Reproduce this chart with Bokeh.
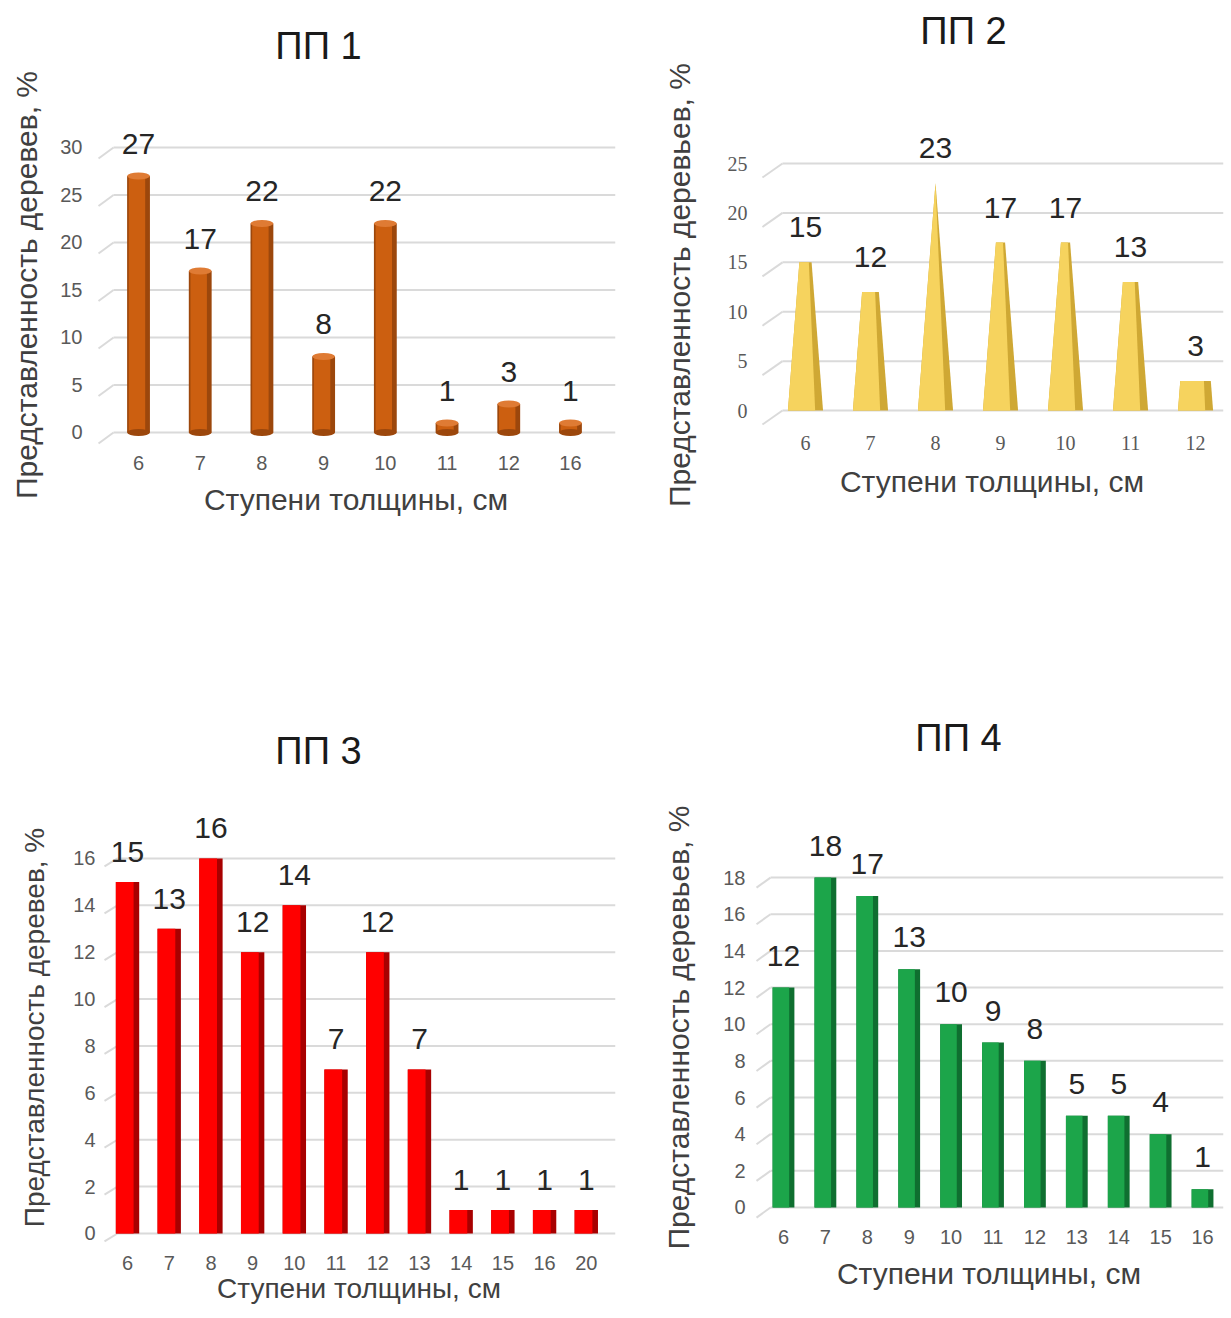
from bokeh.plotting import figure
from bokeh.layouts import column, row
from bokeh.models import ColumnDataSource, FixedTicker, Range1d, Label
from bokeh.transform import dodge
from bokeh.embed import file_html
from bokeh.resources import INLINE
from bokeh.core.properties import value

# ---------------- data ----------------
pp1_title = "ПП 1"
pp1_steps = ["6", "7", "8", "9", "10", "11", "12", "16"]
pp1_values = [27, 17, 22, 8, 22, 1, 3, 1]
pp1_yticks = [0, 5, 10, 15, 20, 25, 30]

pp2_title = "ПП 2"
pp2_steps = ["6", "7", "8", "9", "10", "11", "12"]
pp2_values = [15, 12, 23, 17, 17, 13, 3]
pp2_yticks = [0, 5, 10, 15, 20, 25]

pp3_title = "ПП 3"
pp3_steps = ["6", "7", "8", "9", "10", "11", "12", "13", "14", "15", "16", "20"]
pp3_values = [15, 13, 16, 12, 14, 7, 12, 7, 1, 1, 1, 1]
pp3_yticks = [0, 2, 4, 6, 8, 10, 12, 14, 16]

pp4_title = "ПП 4"
pp4_steps = ["6", "7", "8", "9", "10", "11", "12", "13", "14", "15", "16"]
pp4_values = [12, 18, 17, 13, 10, 9, 8, 5, 5, 4, 1]
pp4_yticks = [0, 2, 4, 6, 8, 10, 12, 14, 16, 18]

x_title = "Ступени толщины, см"
y_title_a = "Представленность деревев, %"
y_title_b = "Представленность деревьев, %"

FONT = "Liberation Sans"
SERIF = "Liberation Serif"
GRID = "#DADADA"


def make_fig(title, title_pos, steps, vals, yticks, ytitle, W, H, L, T, R, B, xr, yr,
             grid3d, xl_standoff, xt_standoff, yl_standoff, yt_standoff,
             tick_font=FONT, axis_title_size="30px"):
    p = figure(width=W, height=H, min_border_left=L, min_border_top=T,
               min_border_right=R, min_border_bottom=B,
               x_range=Range1d(*xr), y_range=Range1d(*yr),
               output_backend="svg", toolbar_location=None, tools="")
    p.outline_line_color = None
    p.background_fill_color = "white"
    p.border_fill_color = "white"
    p.xgrid.visible = False
    p.ygrid.visible = False

    # 3D-style gridlines: back-wall line plus a short slanted floor edge at its left end
    x0, dx, dy = grid3d
    n = len(yticks)
    p.segment(x0=[x0] * n, y0=yticks, x1=[xr[1]] * n, y1=yticks,
              line_color=GRID, line_width=2)
    p.segment(x0=[x0] * n, y0=yticks, x1=[x0 - dx] * n, y1=[t - dy for t in yticks],
              line_color=GRID, line_width=2)

    p.add_layout(Label(x=title_pos[0], y=title_pos[1], x_units="canvas", y_units="canvas",
                       text=title, text_align="center", text_baseline="middle",
                       text_font=FONT, text_font_size="38px", text_color="#1a1a1a"),
                 "above")

    for ax in (p.xaxis[0], p.yaxis[0]):
        ax.axis_line_color = None
        ax.major_tick_line_color = None
        ax.minor_tick_line_color = None
        ax.major_tick_out = 0
        ax.major_tick_in = 0
        ax.major_label_text_font = tick_font
        ax.major_label_text_font_size = "20px"
        ax.major_label_text_color = "#595959"
        ax.axis_label_text_font = FONT
        ax.axis_label_text_font_size = axis_title_size
        ax.axis_label_text_font_style = "normal"
        ax.axis_label_text_color = "#404040"

    p.xaxis.ticker = FixedTicker(ticks=list(range(len(steps))))
    p.xaxis.major_label_overrides = {i: s for i, s in enumerate(steps)}
    p.xaxis.major_label_standoff = xl_standoff
    p.xaxis.axis_label = x_title
    p.xaxis.axis_label_standoff = xt_standoff

    p.yaxis.ticker = FixedTicker(ticks=yticks)
    p.yaxis.major_label_standoff = yl_standoff
    p.yaxis.axis_label = ytitle
    p.yaxis.axis_label_standoff = yt_standoff
    return p


def add_labels(p, vals, off):
    src = ColumnDataSource(dict(x=list(range(len(vals))), y=vals,
                                t=[str(v) for v in vals]))
    p.text(x="x", y="y", text="t", source=src, text_align="center",
           text_baseline="middle", y_offset=off,
           text_font=value(FONT), text_font_size="30px", text_color="#262626")


def add_cylinders(p, vals, w, dark, mid, light):
    n = len(vals)
    src = ColumnDataSource(dict(x=list(range(n)), top=vals, zero=[0] * n))
    p.vbar(x="x", top="top", bottom="zero", width=w, source=src,
           fill_color=dark, line_color=None)
    p.vbar(x=dodge("x", -0.025, range=p.x_range), top="top", bottom="zero",
           width=w * 0.72, source=src, fill_color=mid, line_color=None)
    p.ellipse(x="x", y="zero", width=w, height=7, height_units="screen",
              source=src, fill_color=dark, line_color=None)
    p.ellipse(x="x", y="top", width=w, height=7, height_units="screen",
              source=src, fill_color=light, line_color=None)


def add_boxes(p, vals, w, side, front):
    n = len(vals)
    src = ColumnDataSource(dict(x=list(range(n)), top=vals, zero=[0] * n))
    p.vbar(x="x", top="top", bottom="zero", width=w, source=src,
           fill_color=side, line_color=None)
    p.vbar(x=dodge("x", -w * 0.12, range=p.x_range), top="top", bottom="zero",
           width=w * 0.76, source=src, fill_color=front, line_color=None)


def add_pyramids(p, vals, w, side, front):
    vmax = max(vals)
    hb = w / 2.0
    xs_back, ys_back, xs_front, ys_front = [], [], [], []
    for i, v in enumerate(vals):
        ht = hb * (1.0 - v / vmax)
        xs_back.append([i - hb, i + hb, i + ht, i - ht])
        ys_back.append([0, 0, v, v])
        xs_front.append([i - hb, i + hb * 0.55, i + ht * 0.55, i - ht])
        ys_front.append([0, 0, v, v])
    p.patches(xs=xs_back, ys=ys_back, fill_color=side, line_color=None)
    p.patches(xs=xs_front, ys=ys_front, fill_color=front, line_color=None)


# Row 1: frames share top (124) and bottom (445); Row 2: top 812, bottom 1242
# ---------------- ПП 1 ----------------
p1 = make_fig(pp1_title, (318, 45), pp1_steps, pp1_values, pp1_yticks, y_title_a,
              W=636, H=680, L=96, T=124, R=21, B=235,
              xr=(-0.681, 7.73), yr=(-1.37, 32.42), grid3d=(-0.405, 0.243, 1.16),
              xl_standoff=10, xt_standoff=10, yl_standoff=14, yt_standoff=14)
add_cylinders(p1, pp1_values, 0.37, "#9C470C", "#CC5F10", "#DF7B34")
add_labels(p1, pp1_values, -32)

# ---------------- ПП 2 ----------------
p2 = make_fig(pp2_title, (327, 30), pp2_steps, pp2_values, pp2_yticks, y_title_b,
              W=589, H=680, L=124, T=124, R=2, B=235,
              xr=(-0.692, 6.43), yr=(-3.54, 28.95), grid3d=(-0.354, 0.308, 1.42),
              xl_standoff=-10, xt_standoff=12, yl_standoff=13, yt_standoff=29,
              tick_font=SERIF)
add_pyramids(p2, pp2_values, 0.54, "#CFA834", "#F6D35E")
add_labels(p2, pp2_values, -35)

# ---------------- ПП 3 ----------------
p3 = make_fig(pp3_title, (318, 70), pp3_steps, pp3_values, pp3_yticks, y_title_a,
              W=636, H=630, L=102, T=132, R=21, B=68,
              xr=(-0.600, 11.70), yr=(-0.384, 17.96), grid3d=(-0.24, 0.312, 0.34),
              xl_standoff=13, xt_standoff=0, yl_standoff=7, yt_standoff=20,
              axis_title_size="28px")
add_boxes(p3, pp3_values, 0.56, "#A80000", "#FF0000")
add_labels(p3, pp3_values, -30)

# ---------------- ПП 4 ----------------
p4 = make_fig(pp4_title, (322, 57), pp4_steps, pp4_values, pp4_yticks, y_title_b,
              W=589, H=630, L=118, T=132, R=2, B=68,
              xr=(-0.692, 10.50), yr=(-1.91, 21.55), grid3d=(-0.31, 0.334, 0.55),
              xl_standoff=-13, xt_standoff=10, yl_standoff=9, yt_standoff=25)
add_boxes(p4, pp4_values, 0.52, "#0F6F30", "#1CA54A")
add_labels(p4, pp4_values, -32)

layout = column(row(p1, p2, spacing=0), row(p3, p4, spacing=0), spacing=0)

with open("out.html", "w") as f:
    f.write(file_html(layout, INLINE))
